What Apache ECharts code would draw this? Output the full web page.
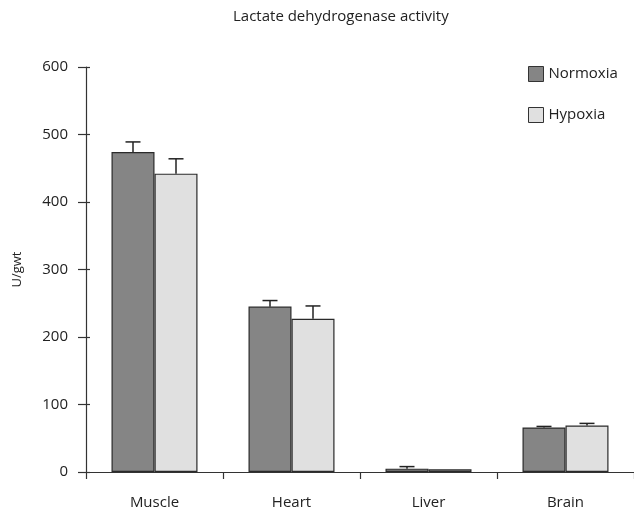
<!DOCTYPE html>
<html>
<head>
<meta charset="utf-8">
<script src="https://cdn.jsdelivr.net/npm/echarts@6/dist/echarts.min.js"></script>
<style>
  html, body { margin: 0; padding: 0; background: #fff; }
  #chart { width: 634px; height: 515px; }
</style>
</head>
<body>
<div id="chart"></div>
<script>
// Tissues and LDH activity (U/g wet weight)
const tissues = ['Muscle', 'Heart', 'Liver', 'Brain'];
const normoxia = [474, 245, 5, 66];
const hypoxia = [442, 227, 4, 69];
// Upper error (SEM) for each bar
const normoxiaErr = [15, 9, 3, 1.5];
const hypoxiaErr = [22, 19, 0, 3];
const yTicks = [0, 100, 200, 300, 400, 500, 600];

const FONT = 'Open Sans';
const BAR_W = 43;
const TEXT = '#222';

function errorSeries(name, values, errs, side) {
  return {
    type: 'custom',
    name: name + ' error',
    silent: true,
    z: 5,
    data: values.map((v, i) => [i, v, v + errs[i]]),
    renderItem: function (params, api) {
      const i = api.value(0);
      const base = api.coord([i, api.value(1)]);
      const top = api.coord([i, api.value(2)]);
      const x = base[0] + side * BAR_W / 2;
      if (api.value(2) - api.value(1) <= 0) return null;
      const cap = 7.5;
      const style = { stroke: '#222', lineWidth: 1.5 };
      return {
        type: 'group',
        children: [
          { type: 'line', shape: { x1: x, y1: base[1], x2: x, y2: top[1] }, style: style },
          { type: 'line', shape: { x1: x - cap, y1: top[1], x2: x + cap, y2: top[1] }, style: style }
        ]
      };
    }
  };
}

const chart = echarts.init(document.getElementById('chart'), null, { renderer: 'canvas' });
chart.setOption({
  animation: false,
  backgroundColor: '#fff',
  title: {
    text: 'Lactate dehydrogenase activity',
    left: 228,
    top: 4,
    textStyle: { fontFamily: FONT, fontSize: 15, fontWeight: 'normal', color: TEXT }
  },
  legend: {
    orient: 'vertical',
    left: 523,
    top: 61,
    itemWidth: 15,
    itemHeight: 15,
    itemGap: 25,
    icon: 'rect',
    data: ['Normoxia', 'Hypoxia'],
    itemStyle: { borderColor: '#333', borderWidth: 1 },
    textStyle: { fontFamily: FONT, fontSize: 15, color: TEXT }
  },
  grid: { left: 86, right: -7, top: 67, bottom: 43, containLabel: false },
  xAxis: {
    type: 'category',
    data: tissues,
    boundaryGap: true,
    axisLine: { lineStyle: { color: '#333', width: 1.2 } },
    axisTick: { show: true, length: 7, lineStyle: { color: '#333', width: 1.2 } },
    axisLabel: { fontFamily: FONT, fontSize: 15, color: TEXT, margin: 23 }
  },
  yAxis: [
    {
      type: 'value',
      min: 0,
      max: 600,
      interval: 100,
      name: 'U/gwt',
      nameLocation: 'middle',
      nameGap: 62,
      nameTextStyle: { fontFamily: FONT, fontSize: 13, color: TEXT },
      splitLine: { show: false },
      axisLine: { show: true, lineStyle: { color: '#333', width: 1.2 } },
      axisTick: { show: true, length: 8, lineStyle: { color: '#333', width: 1.2 } },
      axisLabel: {
        fontFamily: FONT, fontSize: 15, color: TEXT, margin: 18,
        padding: [0, 0, 3, 0],
        formatter: v => (yTicks.includes(v) ? String(v) : '')
      }
    },
    {
      // short inward stubs so each tick crosses the axis line
      type: 'value',
      min: 0,
      max: 600,
      interval: 100,
      position: 'left',
      splitLine: { show: false },
      axisLine: { show: false },
      axisLabel: { show: false },
      axisTick: { show: true, inside: true, length: 4, lineStyle: { color: '#333', width: 1.2 } }
    }
  ],
  series: [
    {
      name: 'Normoxia',
      type: 'bar',
      data: normoxia,
      barWidth: BAR_W,
      barGap: '0%',
      itemStyle: { color: '#858585', borderColor: '#2a2a2a', borderWidth: 1.2 }
    },
    {
      name: 'Hypoxia',
      type: 'bar',
      data: hypoxia,
      barWidth: BAR_W,
      barGap: '0%',
      itemStyle: { color: '#e0e0e0', borderColor: '#2a2a2a', borderWidth: 1.2 }
    },
    errorSeries('Normoxia', normoxia, normoxiaErr, -1),
    errorSeries('Hypoxia', hypoxia, hypoxiaErr, 1)
  ]
});
</script>
</body>
</html>
